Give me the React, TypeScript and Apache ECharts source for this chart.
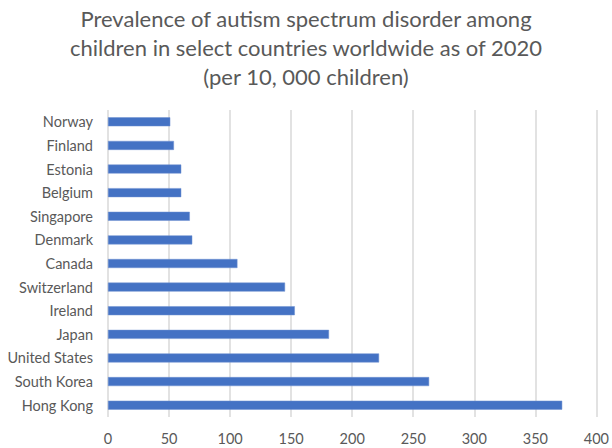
import React, { useEffect, useRef } from "react";
import * as echarts from "echarts";

const countries = [
  "Norway",
  "Finland",
  "Estonia",
  "Belgium",
  "Singapore",
  "Denmark",
  "Canada",
  "Switzerland",
  "Ireland",
  "Japan",
  "United States",
  "South Korea",
  "Hong Kong",
];
const prevalence = [51, 54, 60, 60, 67, 69, 106, 145, 153, 181, 222, 263, 372];
const xTicks = [0, 50, 100, 150, 200, 250, 300, 350, 400];

const titleText =
  "Prevalence of autism spectrum disorder among\nchildren in select countries worldwide as of 2020\n(per 10, 000 children)";

const FONT = "Lato, 'Open Sans', sans-serif";

export default function App() {
  const ref = useRef<HTMLDivElement>(null);

  useEffect(() => {
    if (!ref.current) return;
    const chart = echarts.init(ref.current, undefined, { renderer: "svg" });
    chart.setOption({
      animation: false,
      backgroundColor: "#ffffff",
      title: {
        text: titleText,
        left: "center",
        top: -1,
        textStyle: {
          fontFamily: FONT,
          fontSize: 22,
          fontWeight: "normal",
          color: "#595959",
          lineHeight: 29,
        },
      },
      grid: { left: 108, right: 11, top: 110, bottom: 31 },
      xAxis: {
        type: "value",
        min: xTicks[0],
        max: xTicks[xTicks.length - 1],
        interval: 50,
        axisLine: { show: false },
        axisTick: { show: false },
        axisLabel: {
          fontFamily: FONT,
          fontSize: 14.5,
          color: "#595959",
          margin: 14,
        },
        splitLine: { show: true, lineStyle: { color: "#d9d9d9", width: 1.5 } },
      },
      yAxis: {
        type: "category",
        data: countries,
        inverse: true,
        axisLine: { show: false },
        axisTick: { show: false },
        axisLabel: {
          fontFamily: FONT,
          fontSize: 14.5,
          color: "#595959",
          margin: 15,
        },
      },
      series: [
        {
          type: "bar",
          data: prevalence,
          barWidth: 9,
          itemStyle: { color: "#4472c4", borderColor: "#6f91d0", borderWidth: 0.5 },
        },
      ],
    });
    return () => chart.dispose();
  }, []);

  return (
    <div
      ref={ref}
      style={{ position: "absolute", left: 0, top: 0, width: 612, height: 448 }}
    />
  );
}
